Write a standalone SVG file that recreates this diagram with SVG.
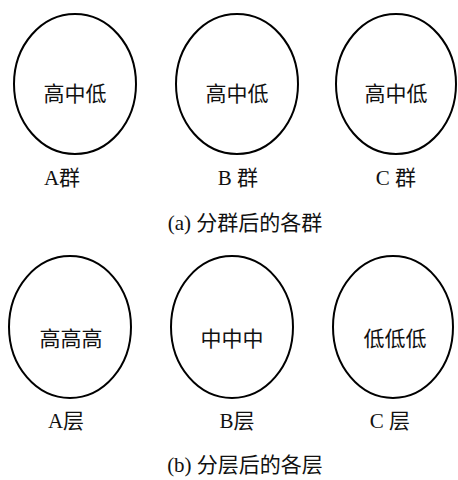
<svg xmlns="http://www.w3.org/2000/svg" width="458" height="480" viewBox="0 0 458 480">
<style>
.e{fill:none;stroke:#000;stroke-width:2}
.t{font-family:"Liberation Serif","Noto Sans CJK SC",serif;font-size:21px;fill:#111;text-anchor:middle}
</style>
<rect width="458" height="480" fill="#fff"/>
<g id="groupA"><ellipse class="e" cx="75" cy="84" rx="61" ry="70"/><text class="t" x="75" y="101">高中低</text><text class="t" x="62" y="185">A群</text></g>
<g id="groupB"><ellipse class="e" cx="237" cy="84" rx="61" ry="70"/><text class="t" x="237" y="101">高中低</text><text class="t" x="238" y="185">B 群</text></g>
<g id="groupC"><ellipse class="e" cx="396" cy="84" rx="60" ry="70"/><text class="t" x="396" y="101">高中低</text><text class="t" x="396" y="185">C 群</text></g>
<text class="t" x="245" y="230">(a) 分群后的各群</text>
<g id="layerA"><ellipse class="e" cx="70" cy="327" rx="61" ry="71"/><text class="t" x="71" y="346">高高高</text><text class="t" x="66" y="428">A层</text></g>
<g id="layerB"><ellipse class="e" cx="232" cy="327" rx="61" ry="71"/><text class="t" x="232" y="346">中中中</text><text class="t" x="237" y="428">B层</text></g>
<g id="layerC"><ellipse class="e" cx="393" cy="327" rx="60" ry="71"/><text class="t" x="395" y="346">低低低</text><text class="t" x="390" y="428">C 层</text></g>
<text class="t" x="245" y="472">(b) 分层后的各层</text>
<g id="connectors"/>
</svg>
